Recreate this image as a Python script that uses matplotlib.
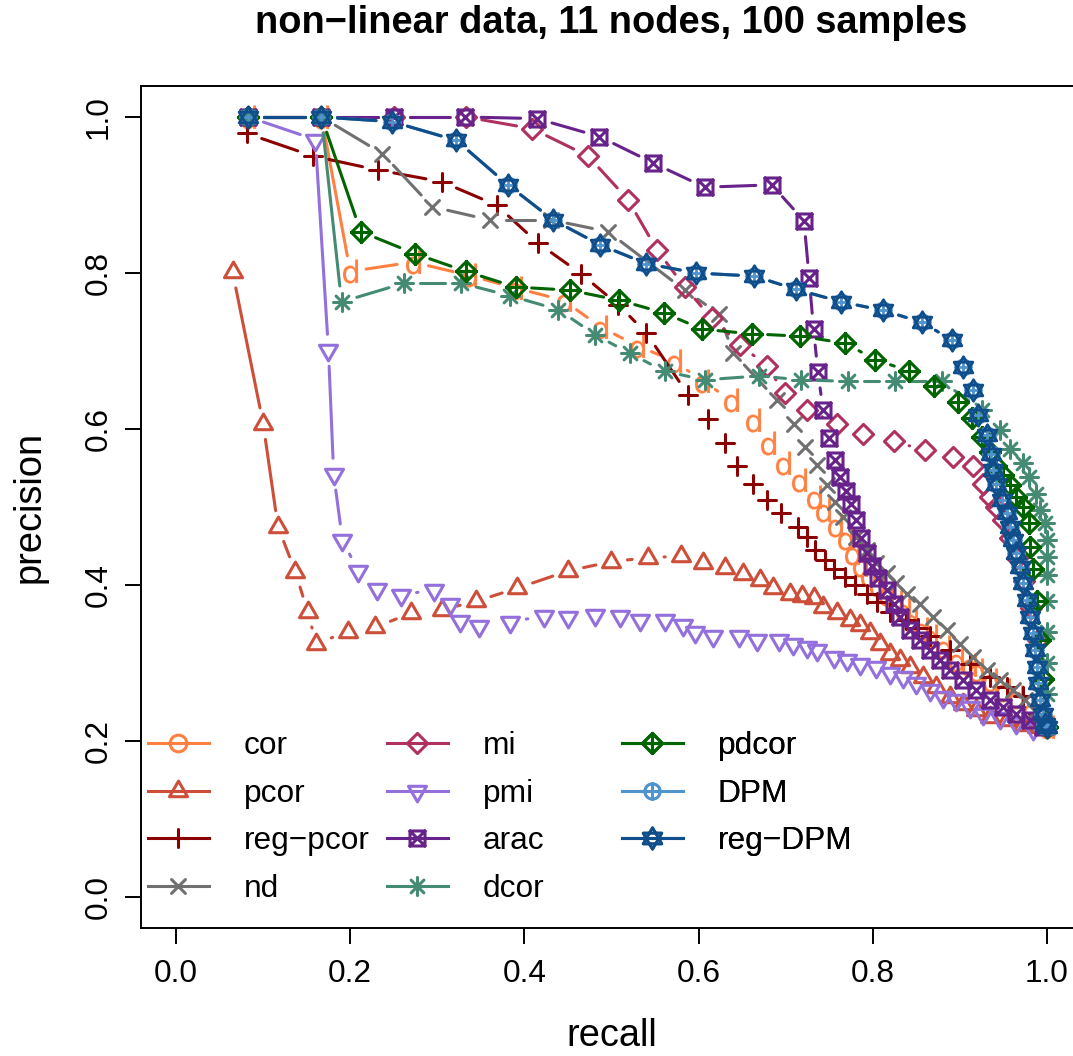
import numpy as np
import matplotlib
matplotlib.use("Agg")
import matplotlib.pyplot as plt
from matplotlib.path import Path
from matplotlib.lines import Line2D
from matplotlib.markers import MarkerStyle
from matplotlib.collections import LineCollection

plt.rcParams['font.family'] = ['Liberation Sans', 'DejaVu Sans']

# ---------------- data (recall, precision) ----------------
cor_x = [0.083, 0.167, 0.200, 0.272, 0.336, 0.389, 0.445, 0.487, 0.529, 0.572, 0.604, 0.637, 0.663, 0.680,
         0.697, 0.715, 0.732, 0.743, 0.757, 0.768, 0.776, 0.785, 0.795, 0.805, 0.815, 0.825, 0.835, 0.843,
         0.855, 0.866, 0.881, 0.896, 0.910, 0.919, 0.935, 0.950, 0.965, 0.980, 0.992, 1.0]
cor_y = [1.0, 1.0, 0.802, 0.814, 0.797, 0.781, 0.765, 0.731, 0.707, 0.687, 0.662, 0.637, 0.612, 0.582,
         0.556, 0.535, 0.513, 0.496, 0.477, 0.460, 0.441, 0.426, 0.413, 0.400, 0.389, 0.378, 0.368, 0.355,
         0.344, 0.334, 0.321, 0.304, 0.297, 0.291, 0.278, 0.265, 0.257, 0.240, 0.230, 0.218]

pcor_x = [0.065, 0.100, 0.117, 0.137, 0.151, 0.161, 0.197, 0.229, 0.270, 0.305, 0.344, 0.392, 0.450, 0.500,
          0.542, 0.580, 0.605, 0.630, 0.651, 0.670, 0.686, 0.705, 0.719, 0.732, 0.743, 0.759, 0.774, 0.785,
          0.797, 0.808, 0.820, 0.831, 0.843, 0.858, 0.873, 0.889, 0.904, 0.919, 0.935, 0.954, 0.973, 0.988, 1.0]
pcor_y = [0.801, 0.607, 0.475, 0.417, 0.366, 0.325, 0.340, 0.346, 0.364, 0.368, 0.379, 0.396, 0.418, 0.430,
          0.435, 0.437, 0.428, 0.422, 0.414, 0.406, 0.396, 0.389, 0.386, 0.383, 0.372, 0.364, 0.355, 0.349,
          0.338, 0.325, 0.312, 0.304, 0.295, 0.282, 0.269, 0.257, 0.248, 0.240, 0.231, 0.227, 0.221, 0.218, 0.218]

regpcor_x = [0.081, 0.157, 0.232, 0.305, 0.368, 0.416, 0.465, 0.508, 0.540, 0.588, 0.611, 0.630, 0.644, 0.663,
             0.678, 0.695, 0.714, 0.724, 0.734, 0.745, 0.756, 0.768, 0.780, 0.793, 0.805, 0.820, 0.838, 0.852,
             0.866, 0.889, 0.912, 0.935, 0.954, 0.973, 0.990, 1.0]
regpcor_y = [0.979, 0.950, 0.932, 0.917, 0.887, 0.838, 0.799, 0.759, 0.723, 0.644, 0.613, 0.582, 0.553, 0.530,
             0.509, 0.492, 0.475, 0.462, 0.445, 0.432, 0.421, 0.410, 0.400, 0.389, 0.378, 0.366, 0.355, 0.345,
             0.334, 0.317, 0.299, 0.282, 0.269, 0.258, 0.235, 0.218]

nd_x = [0.083, 0.167, 0.237, 0.294, 0.360, 0.431, 0.496, 0.584, 0.623, 0.640, 0.690, 0.709, 0.722, 0.736,
        0.747, 0.757, 0.766, 0.781, 0.793, 0.804, 0.816, 0.827, 0.839, 0.854, 0.869, 0.885, 0.900, 0.915,
        0.931, 0.946, 0.961, 0.975, 0.986, 1.0]
nd_y = [1.0, 1.0, 0.953, 0.885, 0.868, 0.868, 0.853, 0.778, 0.748, 0.697, 0.637, 0.607, 0.577, 0.554,
        0.528, 0.507, 0.487, 0.462, 0.445, 0.428, 0.415, 0.402, 0.389, 0.376, 0.359, 0.342, 0.325, 0.308,
        0.291, 0.278, 0.265, 0.253, 0.238, 0.218]

mi_x = [0.083, 0.167, 0.250, 0.333, 0.409, 0.473, 0.519, 0.552, 0.584, 0.615, 0.648, 0.678, 0.699, 0.725,
        0.759, 0.789, 0.824, 0.860, 0.892, 0.915, 0.927, 0.935, 0.942, 0.950, 0.958, 0.966, 0.974, 0.982,
        0.990, 0.996, 1.0]
mi_y = [1.0, 1.0, 1.0, 1.0, 0.985, 0.950, 0.894, 0.830, 0.782, 0.742, 0.708, 0.681, 0.646, 0.624,
        0.607, 0.593, 0.584, 0.573, 0.564, 0.552, 0.530, 0.513, 0.500, 0.483, 0.460, 0.435, 0.405, 0.370,
        0.330, 0.280, 0.218]

pmi_x = [0.083, 0.160, 0.175, 0.181, 0.191, 0.209, 0.231, 0.258, 0.296, 0.315, 0.326, 0.348, 0.384, 0.422,
         0.450, 0.481, 0.510, 0.533, 0.561, 0.582, 0.596, 0.617, 0.646, 0.667, 0.692, 0.708, 0.724, 0.736,
         0.755, 0.770, 0.785, 0.804, 0.820, 0.835, 0.850, 0.866, 0.881, 0.896, 0.912, 0.927, 0.946, 0.965,
         0.984, 1.0]
pmi_y = [1.0, 0.971, 0.701, 0.542, 0.458, 0.418, 0.395, 0.387, 0.394, 0.376, 0.354, 0.347, 0.353, 0.360,
         0.359, 0.362, 0.360, 0.355, 0.355, 0.349, 0.340, 0.335, 0.335, 0.330, 0.329, 0.324, 0.321, 0.317,
         0.308, 0.304, 0.299, 0.295, 0.287, 0.282, 0.274, 0.265, 0.257, 0.253, 0.244, 0.235, 0.229, 0.223,
         0.216, 0.218]

arac_x = [0.083, 0.167, 0.250, 0.332, 0.414, 0.486, 0.548, 0.607, 0.684, 0.721, 0.727, 0.732, 0.737, 0.743,
          0.750, 0.757, 0.762, 0.769, 0.775, 0.781, 0.787, 0.793, 0.799, 0.806, 0.816, 0.824, 0.831, 0.843,
          0.854, 0.866, 0.877, 0.889, 0.904, 0.919, 0.935, 0.950, 0.965, 0.980, 0.996]
arac_y = [1.0, 1.0, 1.0, 1.0, 0.998, 0.975, 0.941, 0.910, 0.913, 0.867, 0.793, 0.728, 0.673, 0.624,
          0.589, 0.560, 0.539, 0.520, 0.504, 0.483, 0.460, 0.441, 0.425, 0.409, 0.394, 0.376, 0.359, 0.342,
          0.329, 0.317, 0.304, 0.291, 0.278, 0.265, 0.253, 0.244, 0.235, 0.227, 0.218]

dcor_x = [0.083, 0.167, 0.190, 0.262, 0.327, 0.383, 0.439, 0.481, 0.521, 0.561, 0.607, 0.669, 0.718, 0.772,
          0.826, 0.879, 0.925, 0.946, 0.957, 0.973, 0.979, 0.987, 0.992, 0.998, 1.0, 1.0, 1.0, 1.0, 1.0,
          1.0, 1.0, 1.0]
dcor_y = [1.0, 1.0, 0.763, 0.787, 0.787, 0.771, 0.753, 0.721, 0.697, 0.674, 0.663, 0.668, 0.663, 0.661,
          0.661, 0.661, 0.625, 0.599, 0.575, 0.556, 0.539, 0.517, 0.496, 0.479, 0.458, 0.436, 0.413, 0.380,
          0.340, 0.300, 0.260, 0.218]

pdcor_x = [0.083, 0.167, 0.212, 0.274, 0.333, 0.390, 0.452, 0.509, 0.560, 0.604, 0.661, 0.717, 0.768, 0.803,
           0.842, 0.870, 0.898, 0.914, 0.925, 0.935, 0.942, 0.950, 0.958, 0.965, 0.973, 0.979, 0.981, 0.984,
           0.988, 0.992, 0.996, 1.0]
pdcor_y = [1.0, 1.0, 0.853, 0.825, 0.802, 0.782, 0.778, 0.765, 0.749, 0.728, 0.722, 0.719, 0.710, 0.689,
           0.674, 0.655, 0.635, 0.614, 0.590, 0.570, 0.552, 0.541, 0.528, 0.513, 0.500, 0.479, 0.449, 0.420,
           0.380, 0.330, 0.280, 0.218]

dpm_x = [0.083, 0.167, 0.248, 0.322, 0.381, 0.433, 0.487, 0.540, 0.597, 0.664, 0.712, 0.764, 0.812, 0.856,
         0.891, 0.904, 0.915, 0.921, 0.931, 0.936, 0.938, 0.942, 0.948, 0.954, 0.957, 0.961, 0.965, 0.969,
         0.972, 0.977, 0.980, 0.984, 0.986, 0.988, 0.990, 0.992, 0.995, 0.998, 1.0]
dpm_y = [1.0, 1.0, 0.994, 0.970, 0.913, 0.868, 0.836, 0.812, 0.800, 0.796, 0.779, 0.763, 0.752, 0.737,
         0.714, 0.680, 0.650, 0.618, 0.592, 0.568, 0.547, 0.530, 0.509, 0.492, 0.475, 0.458, 0.441, 0.423,
         0.402, 0.381, 0.359, 0.338, 0.317, 0.295, 0.275, 0.253, 0.235, 0.222, 0.218]

regdpm_x = [0.083, 0.167, 0.248, 0.322, 0.381, 0.433, 0.487, 0.540, 0.597, 0.664, 0.712, 0.764, 0.812, 0.856,
            0.891, 0.904, 0.915, 0.921, 0.931, 0.936, 0.938, 0.942, 0.948, 0.954, 0.957, 0.961, 0.965, 0.969,
            0.972, 0.977, 0.980, 0.984, 0.986, 0.988, 0.990, 0.992, 0.995, 0.998, 1.0]
regdpm_y = [1.0, 1.0, 0.994, 0.970, 0.913, 0.868, 0.836, 0.812, 0.800, 0.796, 0.779, 0.763, 0.752, 0.737,
            0.714, 0.680, 0.650, 0.618, 0.592, 0.568, 0.547, 0.530, 0.509, 0.492, 0.475, 0.458, 0.441, 0.423,
            0.402, 0.381, 0.359, 0.338, 0.317, 0.295, 0.275, 0.253, 0.235, 0.222, 0.218]

labels = ["cor", "pcor", "reg\u2212pcor", "nd", "mi", "pmi", "arac", "dcor", "pdcor", "DPM", "reg\u2212DPM"]
colors = ["#FF8040", "#CD4F39", "#8B0000", "#707070", "#B03060", "#9370DB",
          "#68228B", "#458B74", "#006400", "#4F94CD", "#104E8B"]
xs = [cor_x, pcor_x, regpcor_x, nd_x, mi_x, pmi_x, arac_x, dcor_x, pdcor_x, dpm_x, regdpm_x]
ys = [cor_y, pcor_y, regpcor_y, nd_y, mi_y, pmi_y, arac_y, dcor_y, pdcor_y, dpm_y, regdpm_y]

xticks = [0.0, 0.2, 0.4, 0.6, 0.8, 1.0]
yticks = [0.0, 0.2, 0.4, 0.6, 0.8, 1.0]
tick_labels = ["0.0", "0.2", "0.4", "0.6", "0.8", "1.0"]
title = "non\u2212linear data, 11 nodes, 100 samples"

# ---------------- marker shapes ----------------
M, L, C = Path.MOVETO, Path.LINETO, Path.CLOSEPOLY
s3 = np.sqrt(3) / 2
d7 = np.sqrt(0.5)
tri_up = Path([(0, 1), (-s3, -0.5), (s3, -0.5), (0, 1)], [M, L, L, C])
tri_dn = Path([(0, -1), (-s3, 0.5), (s3, 0.5), (0, -1)], [M, L, L, C])
diamond = Path([(0, 1), (1, 0), (0, -1), (-1, 0), (0, 1)], [M, L, L, L, C])
plus = Path([(-1, 0), (1, 0), (0, -1), (0, 1)], [M, L, M, L])
cross = Path([(-1, -1), (1, 1), (-1, 1), (1, -1)], [M, L, M, L])
square = Path([(-1, -1), (1, -1), (1, 1), (-1, 1), (-1, -1)], [M, L, L, L, C])
square_x = Path.make_compound_path(square, cross)
asterisk = Path.make_compound_path(plus, Path([(-d7, -d7), (d7, d7), (-d7, d7), (d7, -d7)], [M, L, M, L]))
diamond_plus = Path.make_compound_path(diamond, plus)
circle_plus = Path.make_compound_path(Path.unit_circle(), plus)
star_david = Path.make_compound_path(tri_up, tri_dn)

plot_markers = ["$\\mathrm{d}$", tri_up, plus, cross, diamond, tri_dn, square_x, asterisk,
                diamond_plus, circle_plus, star_david]
legend_markers = [Path.unit_circle()] + plot_markers[1:]
msizes = [12.0, 15.0, 12.5, 10.0, 14.5, 15.0, 10.8, 13.0, 14.5, 11.0, 15.5]
joins = ['round', 'miter', 'round', 'round', 'miter', 'miter', 'miter', 'round',
         'miter', 'round', 'miter']
mews = [2.2, 2.2, 2.2, 2.2, 2.2, 2.2, 2.2, 2.2, 2.2, 2.0, 2.0]


def mstyle(p, j):
    return MarkerStyle(p, joinstyle=j, capstyle='round')


LW = 2.2
GAP = 16  # pixels, R type="b" gap around points

W, H = 1073, 1056
fig = plt.figure(figsize=(W / 100, H / 100), dpi=100)
ax = fig.add_axes([141.2 / W, (H - 928.2) / H, 940.6 / W, 842.4 / H])
ax.set_xlim(-0.04, 1.04)
ax.set_ylim(-0.04, 1.04)


def draw_b(x, y, color, z):
    pts = ax.transData.transform(np.column_stack([x, y]))
    inv = ax.transData.inverted()
    segs = []
    for p0, p1 in zip(pts[:-1], pts[1:]):
        d = p1 - p0
        ln = np.hypot(d[0], d[1])
        if ln > 2 * GAP:
            u = d / ln
            segs.append(inv.transform(np.array([p0 + u * GAP, p1 - u * GAP])))
    lc = LineCollection(segs, colors=color, linewidths=LW, zorder=z, capstyle='round')
    ax.add_collection(lc)


for i in range(len(labels)):
    z = 3 + 2 * i
    draw_b(xs[i], ys[i], colors[i], z)
    if i == 0:
        ax.plot(xs[i], ys[i], ls='none', marker=plot_markers[i], ms=17, mfc=colors[i],
                mec=colors[i], mew=0.2, zorder=z + 1)
    else:
        ax.plot(xs[i], ys[i], ls='none', marker=mstyle(plot_markers[i], joins[i]), ms=msizes[i],
                mfc='none', mec=colors[i], mew=mews[i], zorder=z + 1)

# ---------------- axes cosmetics ----------------
ax.set_xticks(xticks)
ax.set_xticklabels(tick_labels)
ax.set_yticks(yticks)
ax.set_yticklabels(tick_labels, rotation=90, va='center')
ax.tick_params(axis='both', length=11.5, width=1.4, labelsize=22.8, color='black')
ax.tick_params(axis='x', pad=10.5)
ax.tick_params(axis='y', pad=8)
for sp in ax.spines.values():
    sp.set_linewidth(1.4)
ax.spines['right'].set_visible(False)

fig.text(611.5 / W, 1 - 23 / H, title, ha='center', va='center', fontsize=27.4, fontweight='bold')
fig.text(611.5 / W, 1 - 1036 / H, "recall", ha='center', va='center', fontsize=27.4)
fig.text(30 / W, 1 - 507 / H, "precision", ha='center', va='center', rotation=90, fontsize=27.4)

# ---------------- legend (3 columns, R style) ----------------
handles = []
for i in range(len(labels)):
    handles.append(Line2D([], [], color=colors[i], lw=LW, marker=mstyle(legend_markers[i], joins[i]),
                          ms=msizes[i] if i else 12.0, mfc='none', mec=colors[i], mew=mews[i]))

cols = [[0, 1, 2, 3], [4, 5, 6, 7], [8, 9, 10]]
col_x = [148, 387, 622]
top_px = 731.0
for cidx, idxs in zip(col_x, cols):
    leg = ax.legend([handles[k] for k in idxs], [labels[k] for k in idxs],
                    loc='upper left',
                    bbox_to_anchor=((cidx - 141.2) / 940.6, (928.2 - top_px) / 842.4),
                    bbox_transform=ax.transAxes, frameon=False, fontsize=22.8,
                    handlelength=1.92, handletextpad=1.1, labelspacing=0.56,
                    borderpad=0, borderaxespad=0, numpoints=1)
    leg.set_zorder(50)
    ax.add_artist(leg)

fig.savefig("out.png", dpi=100)
